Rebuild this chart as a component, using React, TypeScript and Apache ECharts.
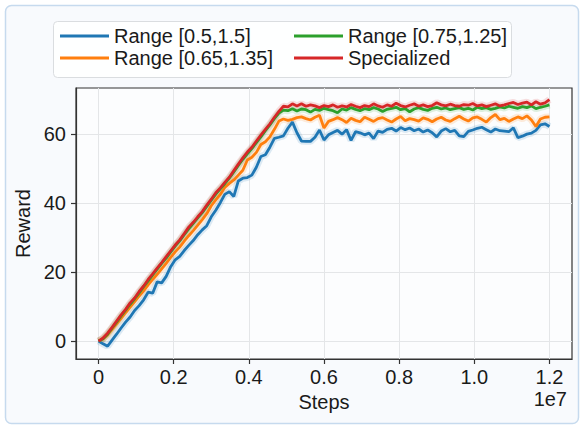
import React, { useEffect, useRef } from "react";
import * as echarts from "echarts";

// Steps between logged points (x = index * STEP)
const STEP = 120000;

const seriesNames = ["Range [0.5,1.5]", "Range [0.65,1.35]", "Range [0.75,1.25]", "Specialized"];
const seriesColors = ["#1f77b4", "#ff7f0e", "#2ca02c", "#d62728"];

const rangeWide = [
  0.0, -0.8, -1.5, 0.3, 2.0, 3.8, 5.5, 7.0, 8.9, 10.3,
  12.0, 14.2, 13.9, 17.2, 16.9, 18.8, 21.6, 23.6, 24.6, 26.3,
  27.8, 29.2, 30.9, 32.3, 33.5, 36.1, 38.0, 40.2, 42.6, 43.4,
  42.0, 46.5, 47.3, 47.5, 48.2, 50.5, 53.6, 54.1, 56.3, 58.9,
  59.2, 59.6, 61.8, 63.6, 60.5, 58.1, 58.0, 58.0, 59.2, 61.3,
  58.4, 59.9, 60.6, 61.2, 60.1, 61.4, 58.3, 60.8, 60.5, 59.9,
  60.4, 58.8, 61.0, 60.6, 61.5, 61.8, 61.0, 62.0, 61.4, 61.9,
  61.1, 61.6, 60.7, 61.3, 60.5, 59.3, 61.0, 61.7, 60.8, 61.2,
  59.6, 59.4, 60.9, 61.3, 61.8, 62.1, 61.4, 60.7, 61.6, 61.1,
  61.0, 60.8, 61.9, 59.1, 59.5, 60.1, 60.4, 61.2, 62.8, 63.1,
  62.3,
];

const rangeMid = [
  0.0, 0.6, 1.8, 3.4, 5.0, 6.6, 8.3, 9.9, 11.5, 13.1,
  14.6, 16.3, 17.9, 19.4, 21.0, 22.6, 24.3, 25.9, 27.3, 29.0,
  30.6, 32.1, 33.7, 35.3, 37.0, 39.3, 41.0, 42.6, 44.6, 45.8,
  46.8, 48.2, 49.6, 52.6, 53.4, 54.8, 57.1, 57.9, 59.3, 61.5,
  63.9, 64.5, 64.1, 64.4, 64.9, 65.1, 64.6, 64.2, 65.0, 65.6,
  61.9, 63.8, 64.3, 64.9, 64.3, 63.5, 64.7, 64.1, 63.7, 65.0,
  64.4, 63.8, 64.6, 64.9, 64.2, 63.6, 64.5, 65.2, 64.0, 64.6,
  64.3, 63.9, 64.8, 64.4, 63.7, 64.5, 65.0, 64.2, 63.8, 64.6,
  65.3, 64.5, 63.9, 64.8, 65.1, 64.4, 63.6, 64.9, 65.8, 64.3,
  64.7, 63.8, 64.5, 65.1, 64.6, 65.4, 64.2, 62.3, 64.5, 65.0,
  65.1,
];

const rangeNarrow = [
  0.0, 0.7, 2.0, 3.8, 5.5, 7.3, 9.0, 10.7, 12.3, 14.0,
  15.8, 17.5, 19.2, 20.9, 22.6, 24.1, 25.9, 27.6, 29.1, 30.9,
  32.6, 34.2, 35.8, 37.3, 39.1, 40.9, 42.7, 44.2, 45.7, 47.3,
  49.1, 51.0, 52.8, 54.4, 55.9, 57.6, 59.3, 61.1, 62.8, 64.6,
  66.2, 67.1, 66.9, 67.5, 66.8, 67.4, 67.2, 66.5, 67.3, 67.0,
  67.6, 67.2, 66.9, 66.3, 67.4, 67.1, 67.8, 67.3, 66.9, 67.5,
  67.2, 67.8, 67.4, 66.7, 67.3, 67.6, 67.9, 67.2, 67.5, 66.6,
  67.4, 67.8, 67.3, 67.0, 67.6, 67.9, 67.4, 67.7, 67.2, 67.5,
  67.8, 67.3, 67.6, 67.1, 67.9, 67.5, 67.8, 67.3, 67.6, 68.0,
  67.7, 68.2, 67.9, 67.6, 68.1, 67.8, 68.3, 67.5, 67.9, 68.2,
  68.6,
];

const specialized = [
  0.0, 0.9, 2.3, 4.0, 5.8, 7.6, 9.2, 11.1, 12.5, 14.4,
  16.0, 17.9, 19.5, 21.2, 22.8, 24.5, 26.2, 27.9, 29.4, 31.2,
  33.1, 34.5, 36.1, 37.6, 39.5, 41.2, 43.1, 44.5, 46.1, 47.6,
  49.5, 51.4, 53.2, 54.9, 56.3, 58.1, 59.8, 61.5, 63.1, 65.0,
  66.7, 68.2, 68.0, 68.9, 68.3, 68.9, 68.2, 68.6, 68.3, 67.8,
  68.4, 68.1, 68.6, 67.9, 68.3, 68.0, 68.7, 68.2, 67.8, 68.4,
  68.1, 68.9, 68.3, 67.9, 68.6, 68.2, 69.1, 68.4, 68.0, 68.5,
  68.9, 68.2, 68.6, 68.1, 68.4, 69.2, 68.6, 68.3, 68.8, 68.4,
  68.2, 68.7, 68.5, 69.0, 68.3, 68.6, 68.1, 68.5, 68.9, 68.3,
  68.6, 69.0, 69.3, 68.7, 69.1, 69.4, 68.6, 69.5, 68.8, 69.2,
  70.1,
];

const xTicks = [0, 2000000, 4000000, 6000000, 8000000, 10000000, 12000000];
const yTicks = [0, 20, 40, 60];

const FONT = "'Liberation Sans', Arial, Helvetica, sans-serif";
const TEXT = "#1a1a1a";
const FS = 20;

export default function App() {
  const ref = useRef<HTMLDivElement>(null);

  useEffect(() => {
    if (!ref.current) return;
    const chart = echarts.init(ref.current, undefined, { renderer: "svg" });
    const all = [rangeWide, rangeMid, rangeNarrow, specialized];
    const series: any[] = [];
    all.forEach((vals, k) => {
      const data = vals.map((v, i) => [i * STEP, v]);
      series.push({
        type: "line",
        name: seriesNames[k] + " band",
        data,
        symbol: "none",
        silent: true,
        lineStyle: { color: seriesColors[k], width: 7, opacity: 0.15 },
        z: 2,
      });
      series.push({
        type: "line",
        name: seriesNames[k],
        data,
        symbol: "none",
        color: seriesColors[k],
        lineStyle: { color: seriesColors[k], width: 2.8 },
        z: 3,
      });
    });

    const legendCommon = {
      orient: "vertical",
      icon: "rect",
      itemWidth: 49,
      itemHeight: 3,
      itemGap: 2,
      padding: 0,
      selectedMode: false,
      textStyle: { fontSize: FS, color: TEXT, fontFamily: FONT, lineHeight: 20 },
    };

    chart.setOption({
      animation: false,
      textStyle: { fontFamily: FONT },
      graphic: [
        {
          type: "rect",
          z: -10,
          silent: true,
          shape: { x: 5.5, y: 5.5, width: 573, height: 418, r: 6 },
          style: { fill: "#f8fafd", stroke: "#c6daee", lineWidth: 1.5 },
        },
        {
          type: "rect",
          z: 5,
          silent: true,
          shape: { x: 53.5, y: 21.5, width: 458, height: 56, r: 4 },
          style: { fill: "rgba(255,255,255,0.85)", stroke: "#dadde0", lineWidth: 1 },
        },
        {
          type: "text",
          z: 10,
          silent: true,
          x: 567,
          y: 399,
          style: {
            text: "1e7",
            fontSize: FS,
            fontFamily: FONT,
            fill: TEXT,
            align: "right",
            verticalAlign: "middle",
          },
        },
      ],
      legend: [
        { ...legendCommon, left: 60, top: 26, data: [seriesNames[0], seriesNames[1]], z: 10 },
        { ...legendCommon, left: 294, top: 26, data: [seriesNames[2], seriesNames[3]], z: 10 },
      ],
      grid: {
        left: 76,
        top: 88,
        right: 12,
        bottom: 68,
        show: true,
        backgroundColor: "#fcfdfe",
        borderColor: "#333333",
        borderWidth: 1.2,
      },
      xAxis: {
        type: "value",
        min: -600000,
        max: 12600000,
        name: "Steps",
        nameLocation: "middle",
        nameGap: 24,
        nameTextStyle: { fontSize: FS, color: TEXT, fontFamily: FONT },
        axisLine: { show: true, onZero: false, lineStyle: { color: "#333333", width: 1.2 } },
        axisTick: { show: true, length: 5, customValues: xTicks, lineStyle: { color: "#333333", width: 1.2 } },
        axisLabel: {
          customValues: xTicks,
          margin: 8,
          fontSize: FS,
          color: TEXT,
          fontFamily: FONT,
          formatter: (v: number) => (v === 0 ? "0" : (v / 1e7).toFixed(1)),
        },
        splitLine: { show: true, lineStyle: { color: "#e4e6e8", width: 1 } },
      },
      yAxis: {
        type: "value",
        min: -5.2,
        max: 73.5,
        name: "Reward",
        nameLocation: "middle",
        nameGap: 35,
        nameRotate: 90,
        nameTextStyle: { fontSize: FS, color: TEXT, fontFamily: FONT },
        axisLine: { show: true, onZero: false, lineStyle: { color: "#333333", width: 1.2 } },
        axisTick: { show: true, length: 5, customValues: yTicks, lineStyle: { color: "#333333", width: 1.2 } },
        axisLabel: {
          customValues: yTicks,
          margin: 10,
          fontSize: FS,
          color: TEXT,
          fontFamily: FONT,
        },
        splitLine: { show: true, lineStyle: { color: "#e4e6e8", width: 1 } },
      },
      series,
    });
    return () => chart.dispose();
  }, []);

  return (
    <div
      ref={ref}
      style={{ position: "fixed", left: 0, top: 0, width: 584, height: 427, background: "#ffffff" }}
    />
  );
}
